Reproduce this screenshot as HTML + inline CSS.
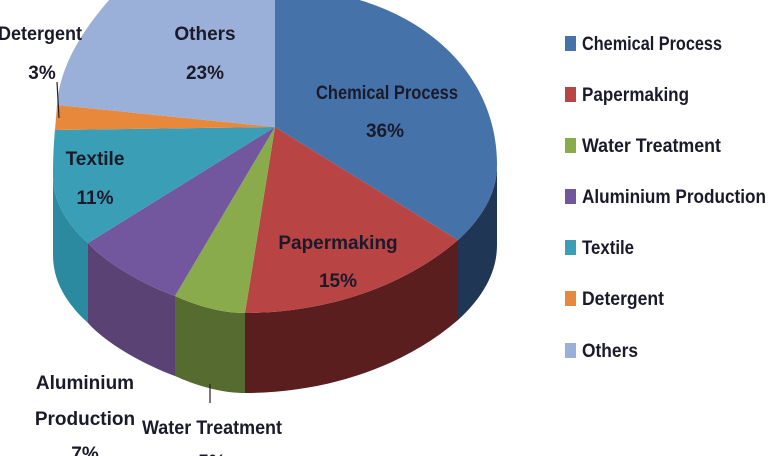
<!DOCTYPE html>
<html><head><meta charset="utf-8"><style>
html,body{margin:0;padding:0;background:#fff;width:768px;height:456px;overflow:hidden}
svg{display:block}
text{font-family:"Liberation Sans",sans-serif;font-weight:bold;fill:#1a1a2a}
</style></head><body>
<svg width="768" height="456" viewBox="0 0 768 456">
<path d="M497,165 C497,195 480,220 458,240 L458,320 C480,300 497,275 497,245 Z" fill="#1f3655"/>
<path d="M458,240 C400,290 320,313 245,313 L245,393 C320,393 400,370 458,320 Z" fill="#5a1e1e"/>
<path d="M245,313 C220,313 195,305 175,296 L175,376 C195,385 220,393 245,393 Z" fill="#556b2f"/>
<path d="M175,296 C140,283 105,262 88,243 L88,323 C105,342 140,363 175,376 Z" fill="#5b4275"/>
<path d="M88,243 C65,222 53,200 53,175 L53,255 C53,280 65,302 88,323 Z" fill="#2c8aa0"/>
<path d="M275,127 L275,-12 C400,-12 497,60 497,165 C497,195 480,220 458,240 Z" fill="#4672aa"/>
<path d="M275,127 L458,240 C400,290 320,313 245,313 Z" fill="#b84444"/>
<path d="M275,127 L245,313 C220,313 195,305 175,296 Z" fill="#8aab4c"/>
<path d="M275,127 L175,296 C140,283 105,262 88,243 Z" fill="#73579e"/>
<path d="M275,127 L88,243 C65,222 53,200 53,175 C53,155 54,140 55,130 Z" fill="#3a9eb6"/>
<path d="M275,127 L55,130 L57,105 Z" fill="#e8883a"/>
<path d="M275,127 L57,105 C60,60 90,20 120,-12 L275,-12 Z" fill="#9bb0d8"/>
<line x1="57" y1="82" x2="59" y2="118" stroke="#222" stroke-width="1.2"/>
<line x1="210" y1="384" x2="210" y2="403" stroke="#222" stroke-width="1.2"/>
<g font-size="19" text-anchor="middle">
<text x="205" y="40">Others</text>
<text x="205" y="79">23%</text>
<text x="387" y="99" textLength="142" lengthAdjust="spacingAndGlyphs">Chemical Process</text>
<text x="385" y="137">36%</text>
<text x="95" y="165">Textile</text>
<text x="95" y="204">11%</text>
<text x="338" y="249">Papermaking</text>
<text x="338" y="287">15%</text>
<text x="40" y="40" textLength="84" lengthAdjust="spacingAndGlyphs">Detergent</text>
<text x="42" y="79">3%</text>
<text x="85" y="389">Aluminium</text>
<text x="85" y="425">Production</text>
<text x="85" y="460">7%</text>
<text x="212" y="434" textLength="140" lengthAdjust="spacingAndGlyphs">Water Treatment</text>
<text x="212" y="468">5%</text>
</g>
<g font-size="19">
<rect x="565" y="36" width="11" height="15" fill="#4672aa"/><text x="582" y="50" textLength="140" lengthAdjust="spacingAndGlyphs">Chemical Process</text>
<rect x="565" y="87" width="11" height="15" fill="#b84444"/><text x="582" y="101" textLength="107" lengthAdjust="spacingAndGlyphs">Papermaking</text>
<rect x="565" y="138" width="11" height="15" fill="#8aab4c"/><text x="582" y="152" textLength="139" lengthAdjust="spacingAndGlyphs">Water Treatment</text>
<rect x="565" y="189" width="11" height="15" fill="#73579e"/><text x="582" y="203" textLength="184" lengthAdjust="spacingAndGlyphs">Aluminium Production</text>
<rect x="565" y="240" width="11" height="15" fill="#3a9eb6"/><text x="582" y="254" textLength="52" lengthAdjust="spacingAndGlyphs">Textile</text>
<rect x="565" y="291" width="11" height="15" fill="#e8883a"/><text x="582" y="305" textLength="82" lengthAdjust="spacingAndGlyphs">Detergent</text>
<rect x="565" y="343" width="11" height="15" fill="#9bb0d8"/><text x="582" y="357" textLength="56" lengthAdjust="spacingAndGlyphs">Others</text>
</g>
</svg>
</body></html>
